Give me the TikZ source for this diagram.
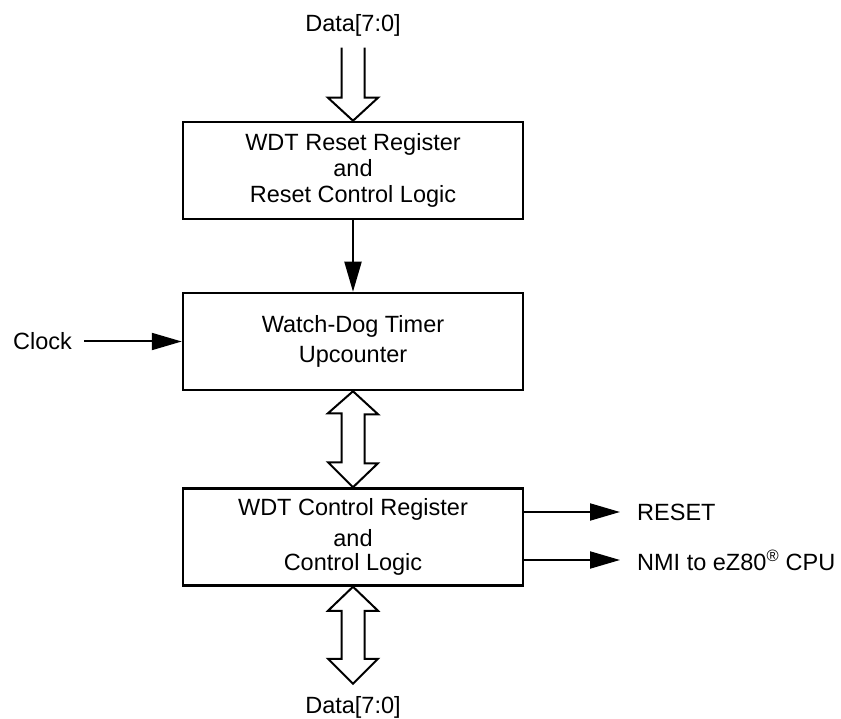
\documentclass[tikz,border=0pt]{standalone}
\usepackage{fontspec}
\setmainfont{Liberation Sans}
\usetikzlibrary{arrows.meta,calc}
\tikzset{
  blk/.style={draw,line width=2.5pt,minimum width=340pt,minimum height=97pt,align=center,inner sep=0pt},
  lbl/.style={inner sep=0pt},
  arr/.style={line width=2pt,-{Triangle[length=30pt,width=17pt]}},
  hollow/.style={line width=2pt,fill=white,line join=miter}
}
\begin{document}
\begin{tikzpicture}[x=1pt,y=-1pt,font=\fontsize{23.5}{26}\selectfont]
\useasboundingbox (0,0) rectangle (841,719);
\node[blk] (b1) at (353,170.5) {WDT Reset Register\\and\\Reset Control Logic};
\node[blk] (b2) at (353,341.5) {Watch-Dog Timer\\[4pt]Upcounter};
\node[blk] (b3) at (353,537) {WDT Control Register\\[5pt]and\\[-2pt]Control Logic};
\node[lbl] (dtop) at (353,25) {Data[7:0]};
\node[lbl] (dbot) at (353,707) {Data[7:0]};
\node[lbl,anchor=west] (clk) at (13,341.5) {Clock};
\node[lbl,anchor=west] (rst) at (637,512) {RESET};
\node[lbl,anchor=west] (nmi) at (637,560) {NMI to eZ80\textsuperscript{\textregistered} CPU};
% top hollow arrow
\draw[hollow] (b1.north) ++(-11.5,-73) -- ++(0,50) -- ++(-13.5,0) -- (b1.north) -- ++(25,-23) -- ++(-13.5,0) -- ++(0,-50);
% b1 -> b2
\draw[arr] (b1.south) -- (b2.north);
% clock
\draw[arr] ([xshift=12pt]clk.east) -- (clk.east -| b2.west);
% double arrow b2 <-> b3
\draw[hollow] (b2.south) -- ++(25,23) -- ++(-13.5,0) -- ++(0,49) -- ++(13.5,0) -- (b3.north) -- ++(-25,-25) -- ++(13.5,0) -- ++(0,-49) -- ++(-13.5,0) -- cycle;
% bottom double arrow
\coordinate (dtip) at ($(b3.south)+(0,97)$);
\draw[hollow] (b3.south) -- ++(25,24) -- ++(-13.5,0) -- ++(0,48) -- ++(13.5,0) -- (dtip) -- ++(-25,-25) -- ++(13.5,0) -- ++(0,-48) -- ++(-13.5,0) -- cycle;
% outputs
\draw[arr] ([yshift=25pt]b3.east) -- ([yshift=25pt]b3.east -| 620,0);
\draw[arr] ([yshift=-23pt]b3.east) -- ([yshift=-23pt]b3.east -| 620,0);
\end{tikzpicture}
\end{document}
